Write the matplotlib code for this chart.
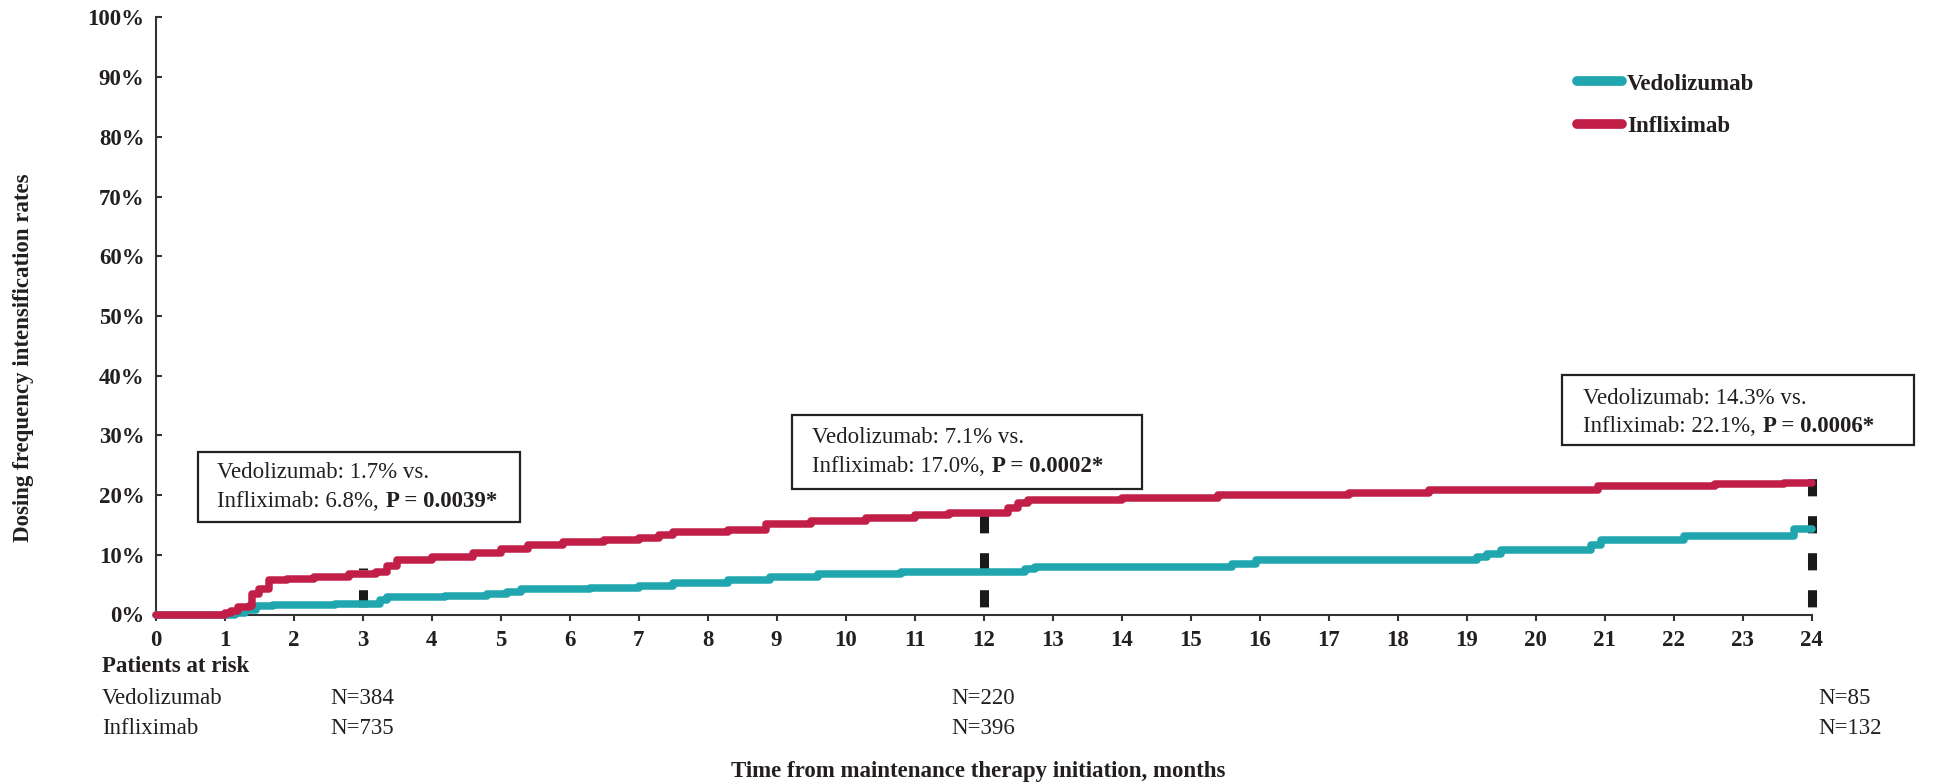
import matplotlib
matplotlib.use("Agg")
import matplotlib.pyplot as plt
from matplotlib.patches import Rectangle
from matplotlib.transforms import blended_transform_factory

plt.rcParams["font.family"] = ["Liberation Serif", "DejaVu Serif"]

# cumulative dosing-intensification rate (%) vs. months, step curves
vedo_t = [0, 1.15, 1.3, 1.45, 1.7, 2.6, 3.25, 3.35, 4.2, 4.8, 5.1, 5.3, 6.3, 7.0, 7.5,
          8.3, 8.9, 9.6, 10.8, 12.6, 12.75, 15.6, 15.95, 19.15, 19.3, 19.5, 20.8,
          20.95, 22.15, 23.75, 24]
vedo_v = [0, 0.3, 0.7, 1.4, 1.6, 1.7, 2.4, 2.9, 3.1, 3.4, 3.8, 4.3, 4.5, 4.8, 5.3,
          5.8, 6.3, 6.8, 7.1, 7.6, 8.0, 8.5, 9.1, 9.6, 10.2, 10.8, 11.6,
          12.4, 13.1, 14.3, 14.3]
infl_t = [0, 1.0, 1.1, 1.2, 1.35, 1.4, 1.5, 1.65, 1.9, 2.3, 2.8, 3.2, 3.35, 3.5, 4.0,
          4.6, 5.0, 5.4, 5.9, 6.5, 7.0, 7.3, 7.5, 8.3, 8.85, 9.5, 10.3, 11.0, 11.5,
          12.35, 12.5, 12.65, 14.0, 15.4, 17.3, 18.45, 20.9, 22.6, 23.6, 24]
infl_v = [0, 0.2, 0.6, 1.2, 1.4, 3.5, 4.2, 5.8, 6.0, 6.3, 6.8, 7.2, 8.2, 9.2, 9.6,
          10.3, 10.9, 11.7, 12.1, 12.4, 12.8, 13.3, 13.8, 14.2, 15.1, 15.6, 16.1, 16.6, 17.0,
          17.8, 18.6, 19.2, 19.5, 20.1, 20.4, 20.9, 21.6, 21.9, 22.1, 22.1]

series_names = ["Vedolizumab", "Infliximab"]
series_colors = ["#20a6ae", "#c21f48"]

# landmark comparisons
mark_t = [3, 12, 24]
mark_vedo = [1.7, 7.1, 14.3]
mark_infl = [6.8, 17.0, 22.1]
mark_p = ["0.0039", "0.0002", "0.0006"]

risk_vedo = [384, 220, 85]
risk_infl = [735, 396, 132]

W, H = 1951, 784
fx = lambda x: x / W
fy = lambda y: 1 - y / H

fig = plt.figure(figsize=(W / 100, H / 100), dpi=100)
ax = fig.add_axes([fx(155.5), fy(614.5), (1811.7 - 155.5) / W, (614.5 - 17.5) / H])

ink = "#231f20"
fs = 16.5

# dashed markers at the landmark times, under the curves
ax.vlines(mark_t, 0, [v + 1.0 for v in mark_infl], colors="#1a1a1a", lw=6.5,
          linestyles=[(3.2, (1.9, 2.2))], zorder=2, clip_on=False)

for t, v, name, c in [(vedo_t, vedo_v, series_names[0], series_colors[0]),
                      (infl_t, infl_v, series_names[1], series_colors[1])]:
    ax.step(t, v, where="post", color=c, lw=5.4, label=name, zorder=4,
            clip_on=False, solid_capstyle="round")

ax.set_xlim(0, 24)
ax.set_ylim(0, 100)
ax.set_xticks(range(25))
ax.set_yticks(range(0, 101, 10))
ax.set_yticklabels([f"{v}%" for v in range(0, 101, 10)])
for s in ["top", "right"]:
    ax.spines[s].set_visible(False)
for s in ["left", "bottom"]:
    ax.spines[s].set_linewidth(1.5)
    ax.spines[s].set_color("#333333")
ax.tick_params(axis="x", direction="out", length=4.5, width=1.5, pad=7, colors="#333333",
               labelcolor=ink, labelsize=fs)
ax.tick_params(axis="y", direction="in", length=4.5, width=1.5, pad=8, colors="#333333",
               labelcolor=ink, labelsize=fs)
for lab in ax.get_xticklabels() + ax.get_yticklabels():
    lab.set_fontweight("bold")

leg = ax.legend(loc="upper left", bbox_to_anchor=(fx(1566), fy(62)),
                bbox_transform=fig.transFigure, frameon=False, borderpad=0,
                handlelength=1.95, handletextpad=0.2, labelspacing=0.95,
                prop={"weight": "bold", "size": fs})
for h in leg.legend_handles:
    h.set_linewidth(7)
    h.set_solid_capstyle("round")
for txt in leg.get_texts():
    txt.set_color(ink)

# comparison boxes: (left, top, right, bottom) and text rows in pixels
boxes = [(198, 452, 520, 522, 217, 472, 502),
         (792, 415, 1142, 489, 812, 437, 467),
         (1562, 375, 1914, 445, 1583, 398, 426)]
for (l, t, r, b, tx, y1, y2), v, i, p in zip(boxes, mark_vedo, mark_infl, mark_p):
    fig.add_artist(Rectangle((fx(l), fy(b)), (r - l) / W, (b - t) / H, fill=False,
                             lw=1.6, ec="#222222", transform=fig.transFigure))
    fig.text(fx(tx), fy(y1), f"Vedolizumab: {v:.1f}% vs.", fontsize=fs, color=ink,
             va="center")
    t1 = fig.text(fx(tx), fy(y2), f"Infliximab: {i:.1f}%,", fontsize=fs, color=ink,
                  va="center")
    ax.annotate(f"P = {p}*", xy=(1, 0), xycoords=t1, xytext=(5, 0),
                textcoords="offset points", ha="left", va="bottom",
                fontsize=fs, color=ink, fontweight="bold", annotation_clip=False)

# patients at risk table
fig.text(fx(102), fy(667), "Patients at risk", fontsize=fs, fontweight="bold",
         color=ink, va="center")
fig.text(fx(102), fy(698), series_names[0], fontsize=fs, color=ink, va="center")
fig.text(fx(102), fy(728), series_names[1], fontsize=fs, color=ink, va="center")
risk_tr = blended_transform_factory(ax.transData, fig.transFigure)
for k, (t, nv, ni) in enumerate(zip(mark_t, risk_vedo, risk_infl)):
    last = k == len(mark_t) - 1
    for n, yy in [(nv, 698), (ni, 728)]:
        ax.text(t + 0.1 if last else t, fy(yy), f"N={n}", fontsize=fs, color=ink,
                ha="left" if last else "center", va="center", transform=risk_tr)

fig.text(fx(978), fy(771), "Time from maintenance therapy initiation, months",
         fontsize=fs, fontweight="bold", color=ink, ha="center", va="center")
fig.text(fx(24), fy(358), "Dosing frequency intensification rates", rotation=90,
         fontsize=fs, fontweight="bold", color=ink, ha="center", va="center")

fig.savefig("out.png", dpi=100, facecolor="white")
